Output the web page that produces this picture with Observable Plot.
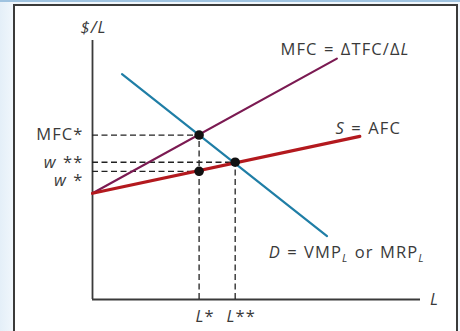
<!DOCTYPE html>
<html>
<head>
<meta charset="utf-8">
<script src="https://cdn.jsdelivr.net/npm/d3@7"></script>
<script src="https://cdn.jsdelivr.net/npm/@observablehq/plot@0.6"></script>
<style>
  html, body { margin: 0; padding: 0; }
  body {
    width: 460px; height: 331px; overflow: hidden; position: relative;
    background: linear-gradient(90deg, #e4eff8 0px, #f1f7fc 14px, #f1f7fc 100%);
  }
  #topbar { position: absolute; left: 0; top: 0; width: 460px; height: 2px; background: #9fc3e0; }
  #frame {
    position: absolute; left: 13px; top: 4px; width: 441px; height: 340px;
    border: 2px solid #3a3a3a; background: #fff;
  }
  #chart { position: absolute; left: 0; top: 0; }
  #chart svg { background: transparent; }
</style>
</head>
<body>
<div id="topbar"></div>
<div id="frame"></div>
<div id="chart"></div>
<script>
// Monopsony labour market: S = AFC, MFC and D curves ($/L against L)
const intercept = 4.1;               // where S and MFC start on the $/L axis
const supplyEnd = [8.15, 6.3];       // S = AFC
const mfcEnd = [7.45, 9.3];          // MFC = ΔTFC/ΔL
const demandStart = [0.9, 8.7];      // D = VMP_L or MRP_L
const demandEnd = [7.15, 2.45];

const Lstar = 3.25, Lstar2 = 4.35;   // L*, L**
const mfcStar = 6.35, wStar2 = 5.3, wStar = 4.95;

const supply = [{x: 0, y: intercept}, {x: supplyEnd[0], y: supplyEnd[1]}];
const mfc = [{x: 0, y: intercept}, {x: mfcEnd[0], y: mfcEnd[1]}];
const demand = [{x: demandStart[0], y: demandStart[1]}, {x: demandEnd[0], y: demandEnd[1]}];

const dots = [
  {x: Lstar, y: mfcStar},
  {x: Lstar, y: wStar},
  {x: Lstar2, y: wStar2}
];

const hGuides = [
  {x1: 0, x2: Lstar, y: mfcStar},
  {x1: 0, x2: Lstar2, y: wStar2},
  {x1: 0, x2: Lstar, y: wStar}
];
const vGuides = [
  {x: Lstar, y1: 0, y2: mfcStar},
  {x: Lstar2, y1: 0, y2: wStar2}
];

// tick labels on the $/L axis: the upper two sit on their guide, w* just below it
const yTicksOn = [
  {y: mfcStar, parts: [["MFC*", ""]]},
  {y: wStar2, parts: [["w", "i"], [" **", ""]]}
];
const yTicksBelow = [
  {y: wStar, parts: [["w", "i"], [" *", ""]]}
];
const xTicks = [
  {x: Lstar, parts: [["L", "i"], ["*", ""]]},
  {x: Lstar2, parts: [["L", "i"], ["**", ""]]}
];

const curveLabels = [
  {x: 5.73, y: 9.65, parts: [["MFC = ΔTFC/Δ", ""], ["L", "i"]]},
  {x: 7.41, y: 6.6, parts: [["S", "i"], [" = AFC", ""]]},
  {x: 5.37, y: 1.8, parts: [["D", "i"], [" = VMP", ""], ["L", "is"], [" or MRP", ""], ["L", "is"]]}
];
const axisTitles = [
  {x: 0.03, y: 10.5, parts: [["$/L", "i"]]},
  {x: 10.43, y: 0, parts: [["L", "i"]]}
];

const ink = "#3a3a3a";
const font = "'Open Sans', Lato, sans-serif";
const fs = 16.5;
const plain = d => d.parts.map(p => p[0]).join("");
const common = {text: plain, fontSize: fs, fill: ink, className: "rich"};

const plot = Plot.plot({
  width: 460,
  height: 331,
  marginLeft: 92,
  marginRight: 40,
  marginTop: 40,
  marginBottom: 32,
  x: {domain: [0, 10], axis: null},
  y: {domain: [0, 10], axis: null},
  style: {fontFamily: font, background: "transparent"},
  marks: [
    // axes
    Plot.ruleX([0], {y1: 0, y2: 10, stroke: ink, strokeWidth: 1.8}),
    Plot.ruleY([0], {x1: 0, x2: 10, stroke: ink, strokeWidth: 1.8}),
    // dashed guides
    Plot.ruleY(hGuides, {y: "y", x1: "x1", x2: "x2", stroke: "#222", strokeWidth: 1.3, strokeDasharray: "6,3.5"}),
    Plot.ruleX(vGuides, {x: "x", y1: "y1", y2: "y2", stroke: "#222", strokeWidth: 1.3, strokeDasharray: "6,3.5"}),
    // curves
    Plot.line(demand, {x: "x", y: "y", stroke: "#1f7ea6", strokeWidth: 2.2}),
    Plot.line(mfc, {x: "x", y: "y", stroke: "#7b1a52", strokeWidth: 2.2}),
    Plot.line(supply, {x: "x", y: "y", stroke: "#b3191e", strokeWidth: 3.2}),
    Plot.dot(dots, {x: "x", y: "y", r: 4.8, fill: "#111"}),
    // labels
    Plot.text(yTicksOn, {...common, x: 0, y: "y", dx: -9, textAnchor: "end"}),
    Plot.text(yTicksBelow, {...common, x: 0, y: "y", dx: -9, dy: 2.5, textAnchor: "end", lineAnchor: "top"}),
    Plot.text(xTicks, {...common, x: "x", y: 0, dx: 6, dy: 17}),
    Plot.text(curveLabels, {...common, x: "x", y: "y", textAnchor: "start"}),
    Plot.text(axisTitles, {...common, x: "x", y: "y"})
  ]
});

// Rebuild rich labels with italic letters and subscripts
const richData = [yTicksOn, yTicksBelow, xTicks, curveLabels, axisTitles];
d3.select(plot).selectAll("g.rich").each(function(_, gi) {
  const data = richData[gi];
  d3.select(this).selectAll("text").each(function(_, i) {
    const t = d3.select(this).attr("letter-spacing", 1.1).attr("word-spacing", 1);
    t.text(null);
    let sub = false;
    data[i].parts.forEach(([s, f]) => {
      const span = t.append("tspan").text(s);
      if (f.includes("i")) span.attr("font-style", "italic");
      if (f.includes("s")) { span.attr("font-size", 11).attr("dy", sub ? 0 : 4); sub = true; }
      else if (sub) { span.attr("dy", -4); sub = false; }
    });
  });
});

document.getElementById("chart").appendChild(plot);
</script>
</body>
</html>
